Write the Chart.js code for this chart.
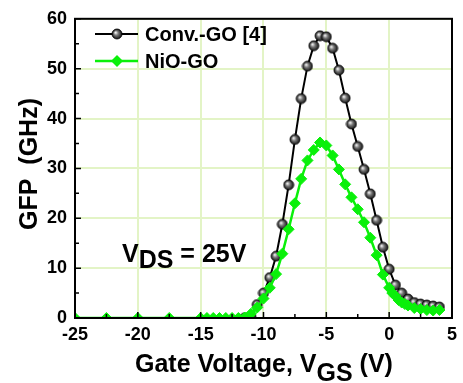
<!DOCTYPE html>
<html>
<head>
<meta charset="utf-8">
<script src="https://cdn.jsdelivr.net/npm/chart.js@4.4.1/dist/chart.umd.min.js"></script>
<style>
  html, body { margin: 0; padding: 0; background: #fff; }
</style>
</head>
<body>
<canvas id="gfpChart" width="463" height="383"></canvas>
<script>
// Data
const convX = [-11.5, -11, -10.5, -10, -9.5, -9, -8.5, -8, -7.5, -7, -6.5, -6, -5.5, -5, -4.5, -4, -3.5, -3, -2.5, -2, -1.5, -1, -0.5, 0, 0.5, 1, 1.5, 2, 2.5, 3, 3.5, 4];
const convY = [0.05, 0.3, 2.7, 5.0, 8.1, 12.4, 18.8, 26.7, 35.8, 44.0, 50.5, 54.6, 56.6, 56.4, 54.1, 49.7, 44.1, 38.9, 34.4, 29.8, 24.9, 19.6, 14.2, 9.8, 6.6, 5.0, 3.8, 3.1, 2.8, 2.6, 2.4, 2.2];

const nioX = [-25, -22.5, -20, -17.5, -15, -14.5, -14, -13.5, -13, -12.5, -12, -11.5, -11, -10.5, -10, -9.5, -9, -8.5, -8, -7.5, -7, -6.5, -6, -5.5, -5, -4.5, -4, -3.5, -3, -2.5, -2, -1.5, -1, -0.5, 0, 0.25, 0.5, 0.75, 1, 1.25, 1.5, 2, 2.5, 3, 3.5, 4];
const nioY = [0, 0, 0, 0, 0, 0, 0, 0, 0, 0, 0, 0.1, 0.85, 2.1, 3.9, 6.05, 8.8, 12.9, 17.8, 23.0, 27.9, 31.6, 33.7, 35.2, 34.6, 32.6, 29.8, 26.8, 24.2, 21.8, 19.2, 16.1, 12.6, 8.7, 6.05, 5.0, 4.4, 3.6, 3.1, 2.8, 2.5, 2.0, 1.8, 1.6, 1.5, 1.6];

const xTicks = [-25, -20, -15, -10, -5, 0, 5];
const yTicks = [0, 10, 20, 30, 40, 50, 60];
const seriesNames = ['Conv.-GO [4]', 'NiO-GO'];

const FONT = '"Liberation Sans", Arial, sans-serif';
const GREEN = '#0af00a';
const GRID = '#e3f4c6';

// shaded sphere marker
function ball(r) {
  const c = document.createElement('canvas');
  const s = r * 2 + 2;
  c.width = c.height = s;
  const g = c.getContext('2d');
  const gr = g.createRadialGradient(s / 2 - r * 0.3, s / 2 - r * 0.3, 0.4, s / 2, s / 2, r);
  gr.addColorStop(0, '#f2f2f2');
  gr.addColorStop(0.4, '#7a7a7a');
  gr.addColorStop(1, '#111');
  g.fillStyle = gr;
  g.beginPath();
  g.arc(s / 2, s / 2, r, 0, Math.PI * 2);
  g.fill();
  g.strokeStyle = '#000';
  g.lineWidth = 0.8;
  g.stroke();
  return c;
}
const ballImg = ball(5);

const toPts = (xs, ys) => xs.map((x, i) => ({ x, y: ys[i] }));

// frame, inward ticks, titles, legend, annotation
const decor = {
  id: 'decor',
  afterDatasetsDraw(chart) {
    const { ctx, chartArea: a, scales: { x, y } } = chart;
    ctx.save();
    ctx.strokeStyle = '#000';
    ctx.lineWidth = 2;
    ctx.strokeRect(a.left, a.top, a.right - a.left, a.bottom - a.top);
    ctx.lineWidth = 1.5;
    ctx.beginPath();
    for (let v = -25; v <= 5; v += 2.5) {
      const px = x.getPixelForValue(v);
      const len = (v % 5 === 0) ? 6 : 4;
      ctx.moveTo(px, a.bottom);
      ctx.lineTo(px, a.bottom - len);
    }
    for (let v = 0; v <= 60; v += 5) {
      const py = y.getPixelForValue(v);
      const len = (v % 10 === 0) ? 6 : 4;
      ctx.moveTo(a.left, py);
      ctx.lineTo(a.left + len, py);
    }
    ctx.stroke();
    ctx.restore();
  },
  afterDraw(chart) {
    const { ctx } = chart;
    ctx.save();
    ctx.fillStyle = '#000';
    ctx.textBaseline = 'alphabetic';

    // x title with subscript
    ctx.font = 'bold 25px ' + FONT;
    let tx = 135;
    const p1 = 'Gate Voltage, V';
    ctx.fillText(p1, tx, 372);
    tx += ctx.measureText(p1).width;
    ctx.fillText('GS', tx, 381);
    tx += ctx.measureText('GS').width;
    ctx.fillText(' (V)', tx, 372);

    // y title
    ctx.save();
    ctx.translate(37, 164);
    ctx.rotate(-Math.PI / 2);
    ctx.textAlign = 'center';
    ctx.fillText('GFP  (GHz)', 0, 0);
    ctx.restore();

    // V_DS annotation
    ctx.font = 'bold 25px ' + FONT;
    let ax = 122;
    ctx.fillText('V', ax, 262);
    ax += ctx.measureText('V').width;
    ctx.fillText('DS', ax, 268);
    ax += ctx.measureText('DS ').width;
    ctx.fillText('= 25V', ax, 262);

    // legend
    ctx.font = 'bold 20px ' + FONT;
    ctx.textBaseline = 'middle';
    ctx.strokeStyle = '#000';
    ctx.lineWidth = 2;
    ctx.beginPath();
    ctx.moveTo(95, 34); ctx.lineTo(138, 34);
    ctx.stroke();
    ctx.drawImage(ballImg, 117 - ballImg.width / 2, 34 - ballImg.height / 2);
    ctx.fillText(seriesNames[0], 145, 35);

    ctx.strokeStyle = GREEN;
    ctx.lineWidth = 2.5;
    ctx.beginPath();
    ctx.moveTo(95, 61); ctx.lineTo(138, 61);
    ctx.stroke();
    ctx.fillStyle = GREEN;
    ctx.beginPath();
    ctx.moveTo(117, 55); ctx.lineTo(123, 61); ctx.lineTo(117, 67); ctx.lineTo(111, 61);
    ctx.closePath();
    ctx.fill();
    ctx.fillStyle = '#000';
    ctx.fillText(seriesNames[1], 145, 62);
    ctx.restore();
  }
};

const chart = new Chart(document.getElementById('gfpChart'), {
  type: 'scatter',
  data: {
    datasets: [
      {
        label: seriesNames[1],
        data: toPts(nioX, nioY),
        showLine: true,
        borderColor: GREEN,
        borderWidth: 2.5,
        pointStyle: 'rectRot',
        pointRadius: 5.5,
        pointBackgroundColor: GREEN,
        pointBorderColor: GREEN,
        pointBorderWidth: 1,
        order: 0
      },
      {
        label: seriesNames[0],
        data: toPts(convX, convY),
        showLine: true,
        borderColor: '#000',
        borderWidth: 2,
        pointStyle: ballImg,
        pointRadius: 5,
        order: 1
      }
    ]
  },
  options: {
    responsive: false,
    animation: false,
    devicePixelRatio: 1,
    layout: { padding: { top: 11, right: 7, left: 0, bottom: 0 } },
    plugins: { legend: { display: false }, tooltip: { enabled: false } },
    scales: {
      x: {
        type: 'linear',
        min: -25, max: 5,
        afterBuildTicks: s => { s.ticks = xTicks.map(v => ({ value: v })); },
        afterFit: s => { s.height = 65; },
        ticks: { color: '#000', font: { family: FONT, size: 18, weight: 'bold' }, padding: 6, maxRotation: 0 },
        grid: { color: GRID, lineWidth: 2, drawTicks: false },
        border: { color: '#000', width: 2 }
      },
      y: {
        min: 0, max: 60,
        afterBuildTicks: s => { s.ticks = yTicks.map(v => ({ value: v })); },
        afterFit: s => { s.width = 75; },
        ticks: { color: '#000', font: { family: FONT, size: 18, weight: 'bold' }, padding: 8 },
        grid: { color: GRID, lineWidth: 2, drawTicks: false },
        border: { color: '#000', width: 2 }
      }
    }
  },
  plugins: [decor]
});
</script>
</body>
</html>
